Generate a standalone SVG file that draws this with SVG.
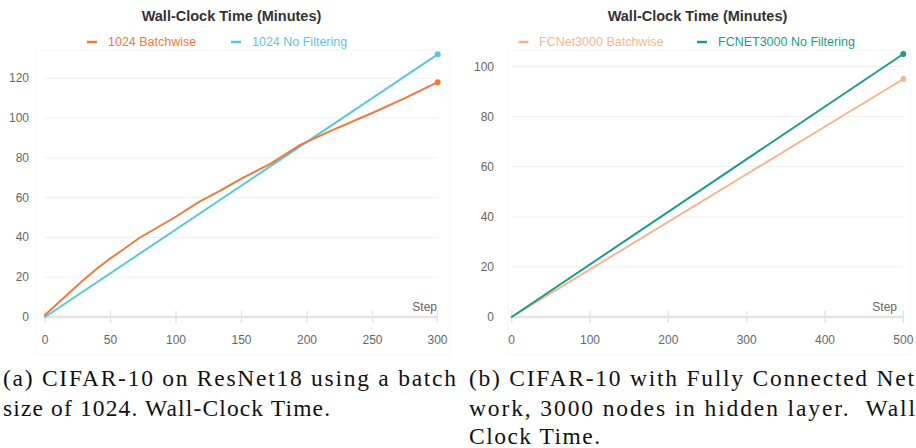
<svg xmlns="http://www.w3.org/2000/svg" width="916" height="448" viewBox="0 0 916 448">
  <style>
    .title { font-family: "Liberation Sans", Arial, sans-serif; font-size: 14.5px; font-weight: bold; fill: #333333; text-anchor: middle; }
    .legend { font-family: "Liberation Sans", Arial, sans-serif; font-size: 12.5px; }
    .tick { font-family: "Liberation Sans", Arial, sans-serif; font-size: 12px; fill: #666666; }
    .ylab { text-anchor: end; }
    .xlab { text-anchor: middle; }
    .grid { stroke: #efefef; stroke-width: 1; }
    .axis { stroke: #e4e4e4; stroke-width: 2.5; }
    .tickmark { stroke: #e4e4e4; stroke-width: 1.5; }
    .panel { fill: none; stroke: #f6f6f6; stroke-width: 1; }
    .series { fill: none; stroke-width: 2; stroke-linejoin: round; stroke-linecap: round; }
    .caption { font-family: "Liberation Serif", "Times New Roman", serif; font-size: 23.5px; fill: #111111; }
  </style>

  <rect width="916" height="448" fill="#ffffff"/>

  <!-- Left chart: ResNet18, batch size 1024 -->
  <g id="chart-left">
    <rect class="panel" x="36" y="50" width="414" height="305"/>
    <text class="title" x="231.5" y="21">Wall-Clock Time (Minutes)</text>
    <g id="legend-left">
      <line x1="87" y1="42" x2="97" y2="42" stroke="#ec7a3c" stroke-width="2.5"/>
      <text class="legend" x="108" y="46" fill="#ec7a3c">1024 Batchwise</text>
      <line x1="231" y1="42" x2="241" y2="42" stroke="#5ec6dc" stroke-width="2.5"/>
      <text class="legend" x="252" y="46" fill="#5ec6dc">1024 No Filtering</text>
    </g>
    <g id="grid-left">
      <line class="grid" x1="45" y1="277.2" x2="438" y2="277.2"/>
      <line class="grid" x1="45" y1="237.4" x2="438" y2="237.4"/>
      <line class="grid" x1="45" y1="197.6" x2="438" y2="197.6"/>
      <line class="grid" x1="45" y1="157.8" x2="438" y2="157.8"/>
      <line class="grid" x1="45" y1="118" x2="438" y2="118"/>
      <line class="grid" x1="45" y1="78.2" x2="438" y2="78.2"/>
    </g>
    <g id="yaxis-left" class="tick ylab">
      <text x="29" y="321">0</text>
      <text x="29" y="281.2">20</text>
      <text x="29" y="241.4">40</text>
      <text x="29" y="201.6">60</text>
      <text x="29" y="161.8">80</text>
      <text x="29" y="122">100</text>
      <text x="29" y="82.2">120</text>
    </g>
    <g id="xaxis-left">
      <line class="axis" x1="45" y1="317" x2="438" y2="317"/>
      <line class="tickmark" x1="45" y1="311" x2="45" y2="323"/>
      <line class="tickmark" x1="110.5" y1="311" x2="110.5" y2="323"/>
      <line class="tickmark" x1="176" y1="311" x2="176" y2="323"/>
      <line class="tickmark" x1="241.5" y1="311" x2="241.5" y2="323"/>
      <line class="tickmark" x1="307" y1="311" x2="307" y2="323"/>
      <line class="tickmark" x1="372.5" y1="311" x2="372.5" y2="323"/>
      <line class="tickmark" x1="437.5" y1="311" x2="437.5" y2="323"/>
      <g class="tick xlab">
        <text x="45" y="344">0</text>
        <text x="110.5" y="344">50</text>
        <text x="176" y="344">100</text>
        <text x="241.5" y="344">150</text>
        <text x="307" y="344">200</text>
        <text x="372.5" y="344">250</text>
        <text x="437.5" y="344">300</text>
      </g>
      <text class="tick" x="437" y="310.5" text-anchor="end" font-size="12.5">Step</text>
    </g>
  </g>

  <!-- Right chart: fully connected net, 3000 hidden nodes -->
  <g id="chart-right">
    <rect class="panel" x="508" y="50" width="402" height="305"/>
    <text class="title" x="697.5" y="21">Wall-Clock Time (Minutes)</text>
    <g id="legend-right">
      <line x1="518.5" y1="42" x2="528.5" y2="42" stroke="#f4b690" stroke-width="2.5"/>
      <text class="legend" x="539" y="46" fill="#f4b690">FCNet3000 Batchwise</text>
      <line x1="697" y1="42" x2="707" y2="42" stroke="#1d9a8a" stroke-width="2.5"/>
      <text class="legend" x="718" y="46" fill="#1d9a8a">FCNET3000 No Filtering</text>
    </g>
    <g id="grid-right">
      <line class="grid" x1="511.7" y1="266.9" x2="903.3" y2="266.9"/>
      <line class="grid" x1="511.7" y1="216.8" x2="903.3" y2="216.8"/>
      <line class="grid" x1="511.7" y1="166.7" x2="903.3" y2="166.7"/>
      <line class="grid" x1="511.7" y1="116.6" x2="903.3" y2="116.6"/>
      <line class="grid" x1="511.7" y1="66.5" x2="903.3" y2="66.5"/>
    </g>
    <g id="yaxis-right" class="tick ylab">
      <text x="494" y="321">0</text>
      <text x="494" y="270.9">20</text>
      <text x="494" y="220.8">40</text>
      <text x="494" y="170.7">60</text>
      <text x="494" y="120.6">80</text>
      <text x="494" y="70.5">100</text>
    </g>
    <g id="xaxis-right">
      <line class="axis" x1="511.7" y1="317" x2="903.3" y2="317"/>
      <line class="tickmark" x1="511.7" y1="311" x2="511.7" y2="323"/>
      <line class="tickmark" x1="590" y1="311" x2="590" y2="323"/>
      <line class="tickmark" x1="668.3" y1="311" x2="668.3" y2="323"/>
      <line class="tickmark" x1="746.7" y1="311" x2="746.7" y2="323"/>
      <line class="tickmark" x1="825" y1="311" x2="825" y2="323"/>
      <line class="tickmark" x1="903.3" y1="311" x2="903.3" y2="323"/>
      <g class="tick xlab">
        <text x="511.7" y="344">0</text>
        <text x="590" y="344">100</text>
        <text x="668.3" y="344">200</text>
        <text x="746.7" y="344">300</text>
        <text x="825" y="344">400</text>
        <text x="903.3" y="344">500</text>
      </g>
      <text class="tick" x="897" y="310.5" text-anchor="end" font-size="12.5">Step</text>
    </g>
  </g>

  <!-- Data series -->
  <g id="connectors">
    <!-- 1024 No Filtering: (0,0) to (300,132) -->
    <polyline class="series" stroke="#5ec6dc" points="45,317 437.7,54.3"/>
    <circle cx="437.7" cy="54.3" r="3" fill="#5ec6dc"/>
    <!-- 1024 Batchwise -->
    <polyline class="series" stroke="#ec7a3c" points="45,315 58.1,303.1 71.2,291.1 84.3,279.2 97.4,268.2 110.5,258.3 123.5,249.3 139.2,238.0 174.6,217.5 199.5,201.6 220.4,190.6 241.4,178.7 270.2,163.8 300.3,144.9 333.0,129.9 372.3,113.0 405.0,98.1 437.7,82.2"/>
    <circle cx="437.7" cy="82.2" r="3" fill="#ec7a3c"/>
    <!-- FCNet3000 Batchwise: (0,0) to (500,95) -->
    <polyline class="series" stroke="#f4b690" points="511.7,317 903.3,79"/>
    <circle cx="903.3" cy="79" r="3" fill="#f4b690"/>
    <!-- FCNET3000 No Filtering: (0,0) to (500,105) -->
    <polyline class="series" stroke="#1d9a8a" points="511.7,317 903.3,54"/>
    <circle cx="903.3" cy="54" r="3" fill="#1d9a8a"/>
  </g>

  <!-- Sub-figure captions -->
  <g id="captions">
    <text class="caption" x="3" y="386" textLength="453" lengthAdjust="spacing">(a) CIFAR-10 on ResNet18 using a batch</text>
    <text class="caption" x="3" y="416" textLength="327" lengthAdjust="spacing">size of 1024. Wall-Clock Time.</text>
    <text class="caption" x="469" y="386" textLength="445" lengthAdjust="spacing">(b) CIFAR-10 with Fully Connected Net</text>
    <text class="caption" x="469" y="416" textLength="446" lengthAdjust="spacing">work, 3000 nodes in hidden layer.&#160; Wall</text>
    <text class="caption" x="469" y="444" textLength="131" lengthAdjust="spacing">Clock Time.</text>
  </g>
</svg>
